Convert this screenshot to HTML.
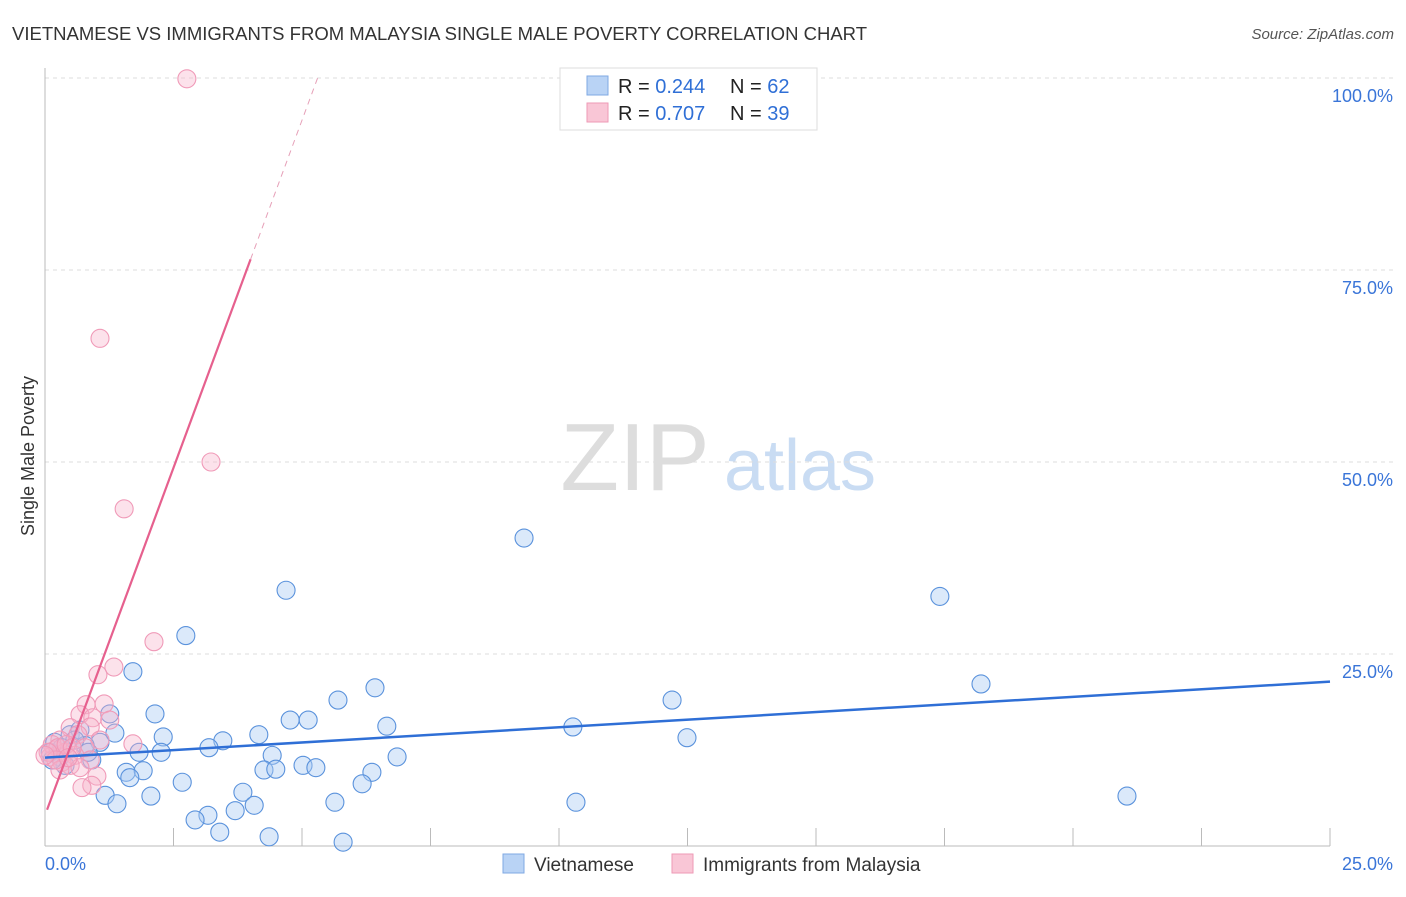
<!DOCTYPE html>
<html><head><meta charset="utf-8"><style>
body{margin:0;background:#fff;font-family:"Liberation Sans",sans-serif;}
svg text{font-family:"Liberation Sans",sans-serif;}
</style></head><body>
<svg id="c" width="1406" height="892" viewBox="0 0 1406 892" xmlns="http://www.w3.org/2000/svg">
<text x="12" y="40" font-size="18" fill="#333" textLength="855" lengthAdjust="spacingAndGlyphs">VIETNAMESE VS IMMIGRANTS FROM MALAYSIA SINGLE MALE POVERTY CORRELATION CHART</text>
<text x="1394" y="39" font-size="15" fill="#555" font-style="italic" text-anchor="end">Source: ZipAtlas.com</text>
<g>
<text x="635" y="490" font-size="96" fill="#ddd" font-family="Liberation Serif,serif" text-anchor="middle">ZIP</text>
<text x="800" y="490" font-size="72" fill="#c9dcf3" text-anchor="middle">atlas</text>
</g>
<g id="grid"></g>
<g id="axes"></g>
<g id="blue"></g>
<g id="pink"></g>
<g id="lines"></g>
<text x="34" y="456" font-size="18" fill="#333" text-anchor="middle" transform="rotate(-90 34 456)">Single Male Poverty</text>
<text x="45" y="870" font-size="18" fill="#3a75d8">0.0%</text>
<text x="1393" y="870" font-size="18" fill="#3a75d8" text-anchor="end">25.0%</text>
<g>
<rect x="560" y="68" width="257" height="62" fill="#fff" stroke="#ddd"/>
<rect x="587" y="76" width="21" height="19" fill="#b9d3f5" stroke="#7fa8e3"/>
<rect x="587" y="103" width="21" height="19" fill="#f9c6d6" stroke="#ee9ab6"/>
<text x="618" y="93" font-size="20" fill="#222">R = <tspan fill="#2f6fd6">0.244</tspan></text>
<text x="730" y="93" font-size="20" fill="#222">N = <tspan fill="#2f6fd6">62</tspan></text>
<text x="618" y="120" font-size="20" fill="#222">R = <tspan fill="#2f6fd6">0.707</tspan></text>
<text x="730" y="120" font-size="20" fill="#222">N = <tspan fill="#2f6fd6">39</tspan></text>
</g>
<g>
<rect x="503" y="854" width="21" height="19" fill="#b9d3f5" stroke="#7fa8e3"/>
<text x="534" y="871" font-size="19" fill="#333">Vietnamese</text>
<rect x="672" y="854" width="21" height="19" fill="#f9c6d6" stroke="#ee9ab6"/>
<text x="703" y="871" font-size="19" fill="#333">Immigrants from Malaysia</text>
</g>
</svg>
<script>
const yTicks=[25,50,75,100];
const yTickLabels=["25.0%","50.0%","75.0%","100.0%"];
const blueX=[9.32,4.69,17.41,2.74,1.71,6.42,18.21,5.70,12.20,2.14,1.26,4.77,5.12,6.65,10.27,1.36,4.16,2.30,3.46,12.49,3.19,1.07,0.49,0.68,1.83,2.26,4.42,6.85,0.91,5.02,5.27,4.26,4.49,6.36,1.58,1.91,1.65,2.67,6.17,3.85,1.17,2.06,1.40,4.07,5.64,10.33,21.05,3.17,2.92,3.70,3.40,4.36,5.80,0.19,0.10,0.29,0.39,0.78,0.58,0.14,0.33,0.84];
const blueY=[40.1,33.3,32.5,27.4,22.7,20.6,21.1,19.0,19.0,17.2,17.2,16.4,16.4,15.6,15.5,14.7,14.5,14.2,13.7,14.1,12.8,13.5,14.5,15.1,12.2,12.2,11.8,11.6,11.2,10.5,10.2,9.9,10.0,9.6,9.6,9.8,8.9,8.3,8.1,7.0,6.6,6.5,5.5,5.3,5.7,5.7,6.5,4.0,3.4,4.6,1.8,1.2,0.5,13.5,12.2,11.6,10.5,13.1,13.8,11.2,12.8,12.2];
const pinkX=[2.76,1.07,3.23,1.54,2.12,1.34,1.03,0.80,1.15,0.68,0.93,1.26,0.88,0.49,0.64,1.07,0.29,1.71,0.78,0.19,0.39,0.58,0.10,0.88,0.33,0.49,0.68,0.29,1.01,0.91,0.72,0.14,0.25,0.41,0.53,0.06,0.21,0.45,0.0];
const pinkY=[99.9,66.1,50.0,43.9,26.6,23.3,22.3,18.4,18.5,17.1,16.7,16.4,15.5,15.4,14.5,13.8,13.8,13.3,12.8,12.5,12.2,11.8,11.6,11.2,10.9,10.5,10.2,9.9,9.1,7.9,7.6,13.2,12.8,13.2,12.8,12.2,11.2,11.5,11.8];
const blueTrend=[11.5,21.4];
const pinkTrend=[4.0,18.1];
const X=v=>45+v*51.4, Y=v=>846-v*7.68;
const NS="http://www.w3.org/2000/svg";
function mk(parent,tag,attrs){const e=document.createElementNS(NS,tag);for(const k in attrs)e.setAttribute(k,attrs[k]);document.getElementById(parent).appendChild(e);return e;}
yTicks.forEach((t,i)=>{
 const l=mk('grid','line',{x1:45,x2:1393,y1:Y(t),y2:Y(t),stroke:'#ddd','stroke-dasharray':'4,4'});
 
 
 const tx=mk('grid','text',{x:1393,y:Y(t)+24,'font-size':18,fill:'#3a75d8','text-anchor':'end'});
 tx.textContent=yTickLabels[i];
 
 
});
mk('axes','line',{x1:45,x2:45,y1:68,y2:846,stroke:'#bbb'});
mk('axes','line',{x1:45,x2:1330,y1:846,y2:846,stroke:'#bbb'});
for(let k=1;k<=10;k++){const t=mk('axes','line',{x1:X(k*2.5),x2:X(k*2.5),y1:828,y2:846,stroke:'#bbb'});
 
 }
blueX.forEach((v,i)=>{const c=mk('blue','circle',{cx:X(v),cy:Y(blueY[i]),r:9,fill:'rgba(170,202,242,0.42)',stroke:'#5a92dc','stroke-width':1.1});
 
 });
pinkX.forEach((v,i)=>{const c=mk('pink','circle',{cx:X(v),cy:Y(pinkY[i]),r:9,fill:'rgba(246,180,202,0.38)',stroke:'#f09ab8','stroke-width':1.1});
 
 });
const bl=mk('lines','line',{x1:X(0),y1:Y(blueTrend[0]),x2:X(25),y2:Y(blueTrend[1]),stroke:'#2f6fd6','stroke-width':2.5});


const pe=4.0, pd=(100-pinkTrend[0])/pinkTrend[1];
const pl=mk('lines','line',{x1:X(0.04),y1:Y(pinkTrend[0]+pinkTrend[1]*0.04),x2:X(pe),y2:Y(pinkTrend[0]+pinkTrend[1]*pe),stroke:'#e6608e','stroke-width':2.2});


const pl2=mk('lines','line',{x1:X(pe),y1:Y(pinkTrend[0]+pinkTrend[1]*pe),x2:X(pd),y2:Y(100),stroke:'#e6a0b8','stroke-width':1,'stroke-dasharray':'6,5'});


</script>
</body></html>
